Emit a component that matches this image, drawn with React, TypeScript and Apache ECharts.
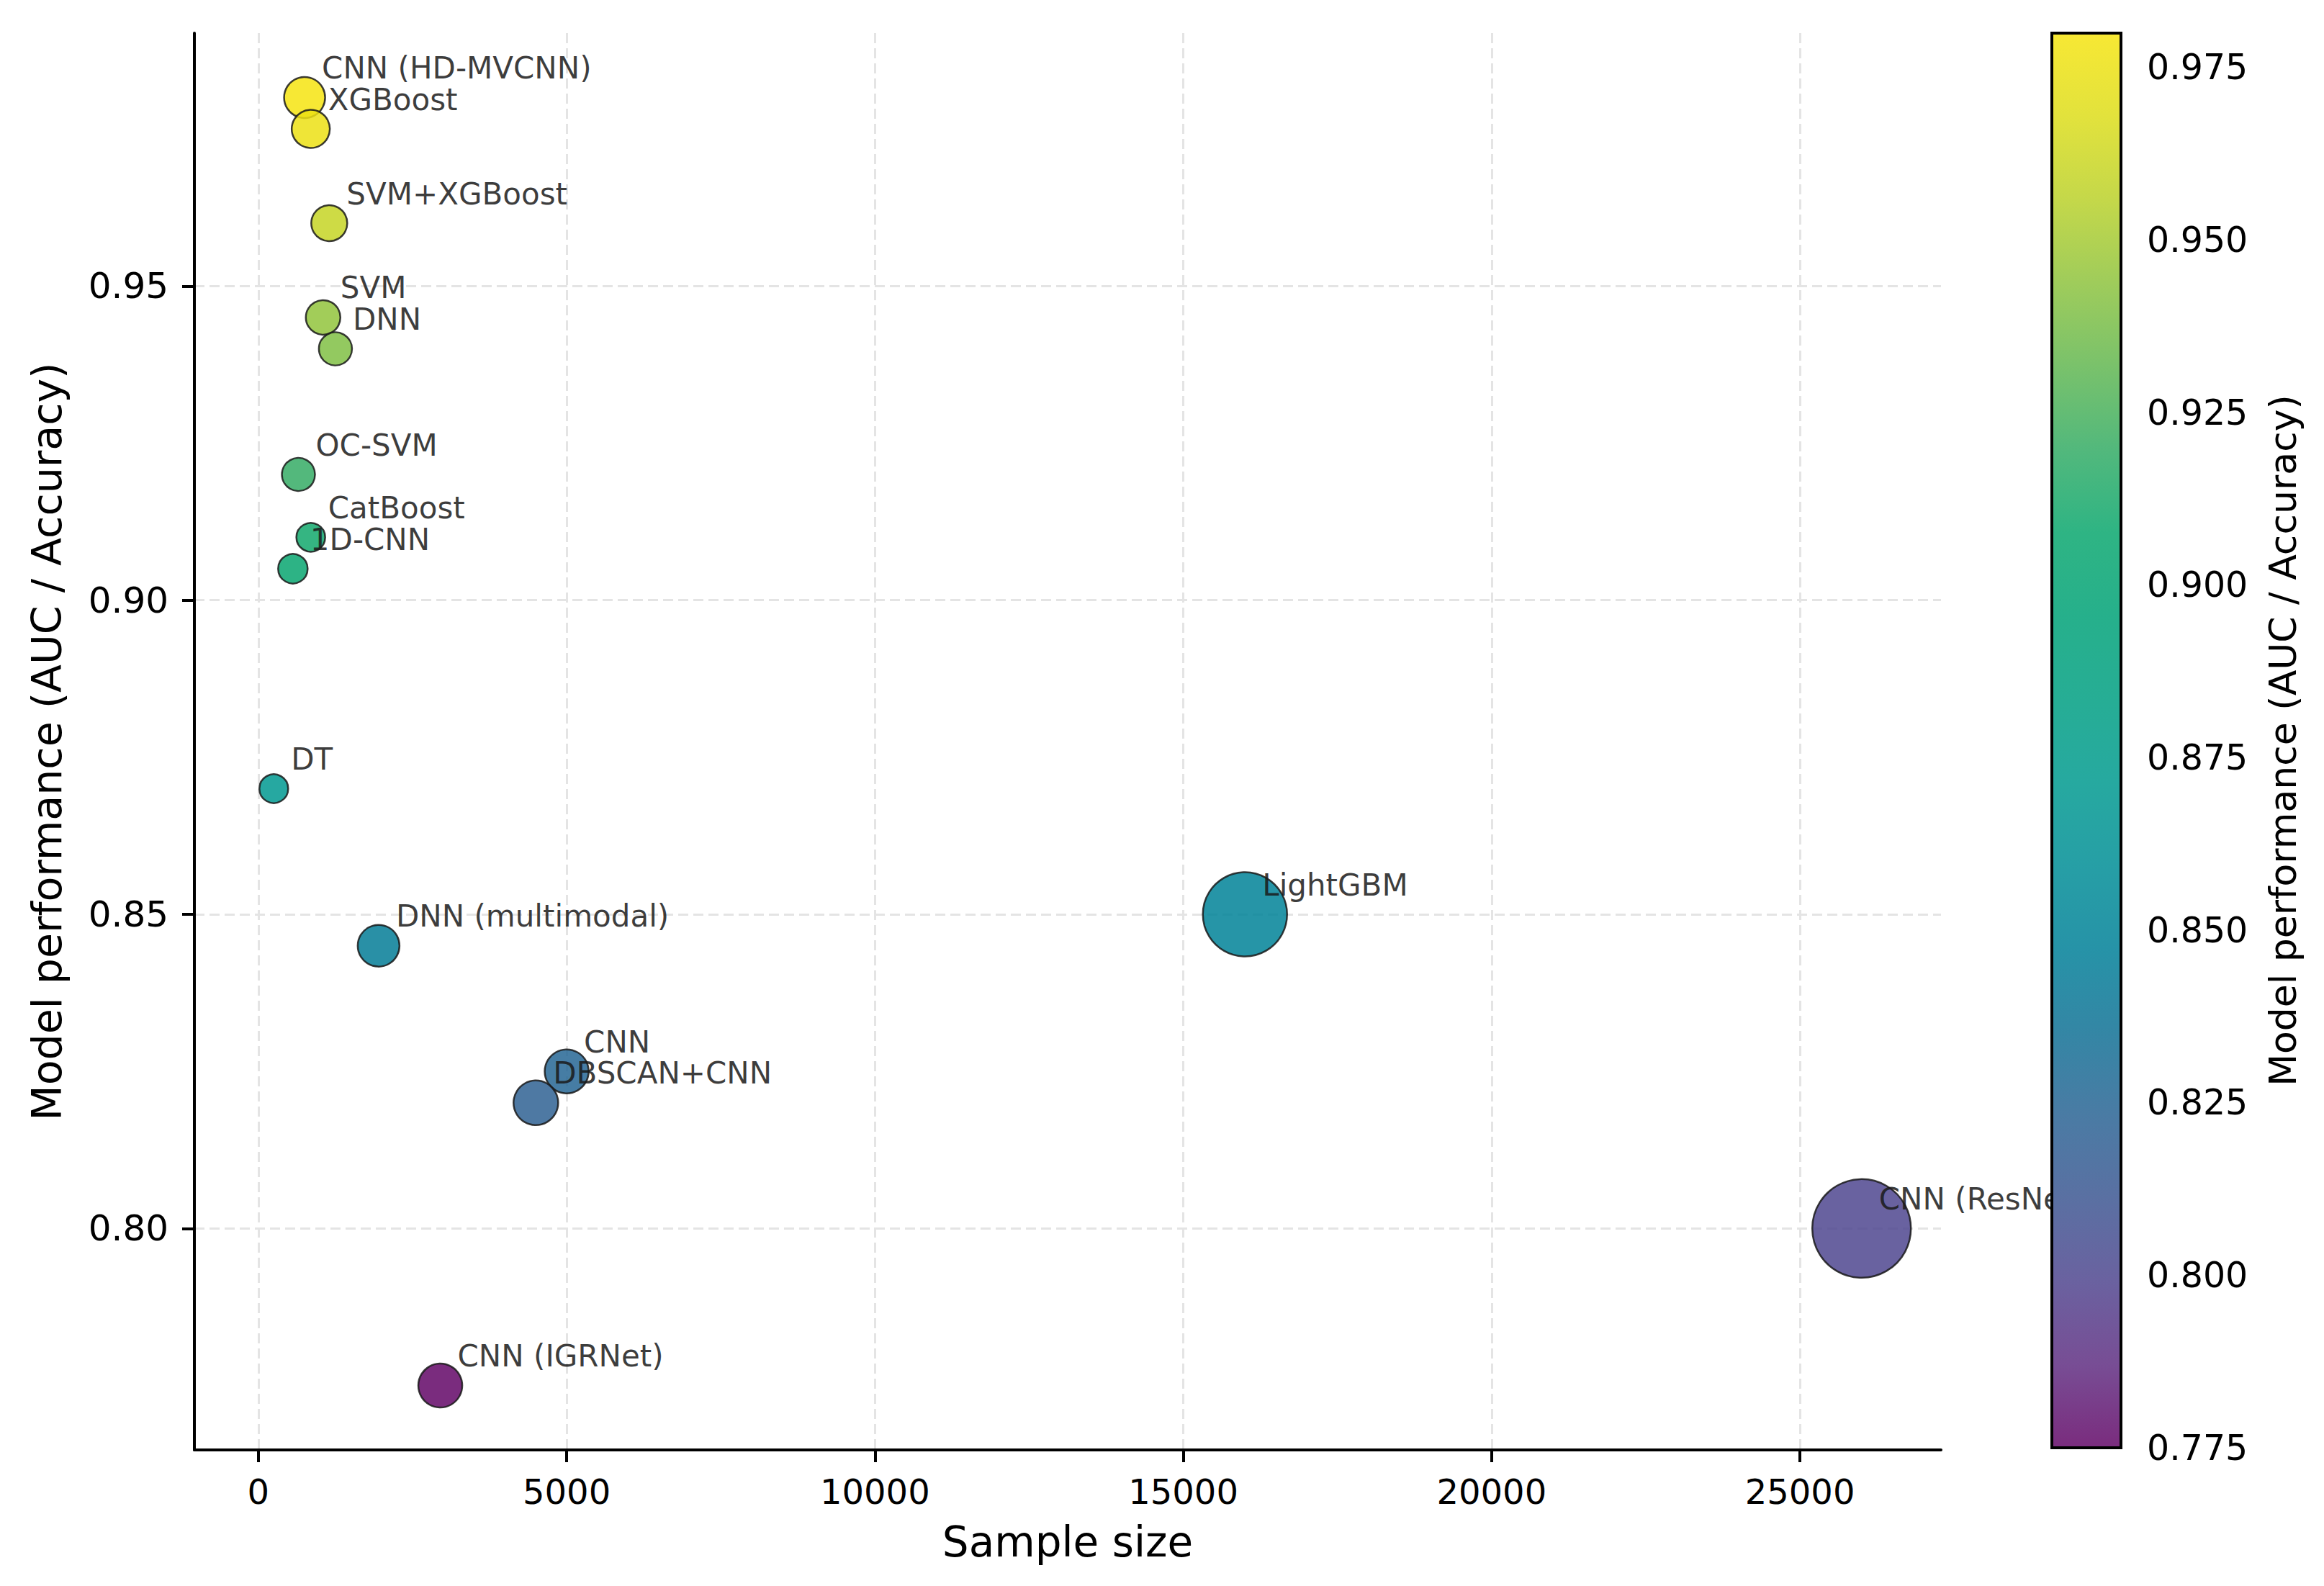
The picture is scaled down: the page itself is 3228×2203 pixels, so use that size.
import * as echarts from "echarts"
import { useEffect, useRef } from "react"

// model / sample size / performance
const models = [
  "CNN (HD-MVCNN)",
  "XGBoost",
  "SVM+XGBoost",
  "SVM",
  "DNN",
  "OC-SVM",
  "CatBoost",
  "1D-CNN",
  "DT",
  "DNN (multimodal)",
  "CNN",
  "DBSCAN+CNN",
  "LightGBM",
  "CNN (ResNet)",
  "CNN (IGRNet)",
]
const sampleSize = [750, 850, 1150, 1050, 1250, 650, 850, 560, 250, 1950, 5000, 4500, 16000, 26000, 2950]
const performance = [0.98, 0.975, 0.96, 0.945, 0.94, 0.92, 0.91, 0.905, 0.87, 0.845, 0.825, 0.82, 0.85, 0.8, 0.775]
// bubble diameter as drawn
const bubbleDiameter = [57, 53, 50, 48, 46, 46, 40, 41, 40, 58, 61, 62, 117, 137, 61]

const xTicks = [0, 5000, 10000, 15000, 20000, 25000]
const yTicks = [0.8, 0.85, 0.9, 0.95]
const colorbarRange = [0.775, 0.98]
const colorbarTicks = [0.775, 0.8, 0.825, 0.85, 0.875, 0.9, 0.925, 0.95, 0.975]

// viridis-like map as it appears in the picture (before alpha)
const cmap = [
  "#630767", "#602e82", "#50468f", "#3d5792", "#2a6494", "#107195",
  "#008098", "#008e96", "#009a8f", "#009f82", "#00a277", "#0aa76e",
  "#34ac65", "#62b751", "#8ec33e", "#bad12a", "#dddd1a", "#f6e410",
]

const FONT = "DejaVu Sans"
const ALPHA = 0.85

// matplotlib-style 5% margins
function padded(values: number[]): [number, number] {
  const lo = Math.min(...values)
  const hi = Math.max(...values)
  const m = (hi - lo) * 0.05
  return [lo - m, hi + m]
}

export default function App(): React.ReactElement {
  const ref = useRef<HTMLDivElement>(null)

  useEffect(() => {
    const node = ref.current
    if (!node) return
    const chart = echarts.init(node, undefined, { renderer: "svg" })

    const [xMin, xMax] = padded(sampleSize)
    const [yMin, yMax] = padded(performance)
    const points = models.map((m, i) => [sampleSize[i], performance[i], bubbleDiameter[i], m])

    const tickLabel = { color: "#000", fontFamily: FONT, fontSize: 48 }
    const axisLine = { show: true, onZero: false, lineStyle: { color: "#000", width: 4 } }
    const axisTick = { show: true, length: 17, lineStyle: { color: "#000", width: 4 } }
    const grid = { show: true, lineStyle: { color: "#e4e4e4", width: 3, type: [14, 7] } }

    const stops = cmap.map((c, i) => ({ offset: i / (cmap.length - 1), color: c }))

    chart.setOption({
      animation: false,
      backgroundColor: "#fff",
      textStyle: { fontFamily: FONT },
      grid: [
        { left: 270, top: 46, width: 2426, height: 1968 },
        { left: 2850, top: 46, width: 96, height: 1965 },
      ],
      xAxis: [
        {
          type: "value",
          gridIndex: 0,
          min: xMin,
          max: xMax,
          name: "Sample size",
          nameLocation: "middle",
          nameGap: 99,
          nameTextStyle: { color: "#000", fontFamily: FONT, fontSize: 58 },
          axisLine,
          axisTick: { ...axisTick, customValues: xTicks },
          axisLabel: { ...tickLabel, margin: 34, customValues: xTicks, formatter: (v: number) => String(v) },
          splitLine: grid,
        },
        { type: "value", gridIndex: 1, min: 0, max: 1, show: false },
      ],
      yAxis: [
        {
          type: "value",
          gridIndex: 0,
          min: yMin,
          max: yMax,
          name: "Model performance (AUC / Accuracy)",
          nameLocation: "middle",
          nameRotate: 90,
          nameGap: 177,
          nameTextStyle: { color: "#000", fontFamily: FONT, fontSize: 57 },
          axisLine,
          axisTick: { ...axisTick, customValues: yTicks },
          axisLabel: {
            ...tickLabel,
            fontSize: 50,
            margin: 36,
            customValues: yTicks,
            formatter: (v: number) => v.toFixed(2),
          },
          splitLine: grid,
        },
        {
          type: "value",
          gridIndex: 1,
          position: "right",
          min: colorbarRange[0],
          max: colorbarRange[1],
          name: "Model performance (AUC / Accuracy)",
          nameLocation: "middle",
          nameRotate: 90,
          nameGap: 199,
          nameTextStyle: { color: "#000", fontFamily: FONT, fontSize: 52 },
          axisLine: { show: false },
          axisTick: { ...axisTick, customValues: colorbarTicks },
          axisLabel: {
            ...tickLabel,
            fontSize: 49,
            margin: 36,
            customValues: colorbarTicks,
            formatter: (v: number) => v.toFixed(3),
          },
          splitLine: { show: false },
        },
      ],
      visualMap: {
        type: "continuous",
        show: false,
        seriesIndex: 0,
        dimension: 1,
        min: colorbarRange[0],
        max: colorbarRange[1],
        inRange: { color: cmap },
      },
      series: [
        {
          type: "scatter",
          xAxisIndex: 0,
          yAxisIndex: 0,
          data: points,
          symbolSize: (v: any[]) => v[2],
          itemStyle: { opacity: ALPHA, borderColor: "#1a1a1a", borderWidth: 2.5 },
          label: {
            show: true,
            position: "inside",
            align: "left",
            verticalAlign: "bottom",
            offset: [24, -20],
            formatter: (p: any) => p.data[3],
            color: "#1a1a1a",
            fontFamily: FONT,
            fontSize: 42,
            lineHeight: 42,
            textBorderWidth: 0,
          },
          emphasis: { disabled: true },
          z: 3,
        },
        {
          type: "custom",
          coordinateSystem: "cartesian2d",
          xAxisIndex: 1,
          yAxisIndex: 1,
          data: [colorbarRange],
          silent: true,
          clip: false,
          z: 10,
          renderItem: (_params: any, api: any) => {
            const p0 = api.coord([0, api.value(0)])
            const p1 = api.coord([1, api.value(1)])
            const shape = { x: p0[0], y: p1[1], width: p1[0] - p0[0], height: p0[1] - p1[1] }
            return {
              type: "group",
              children: [
                { type: "rect", shape, style: { fill: "#fff" } },
                {
                  type: "rect",
                  shape,
                  style: { fill: new echarts.graphic.LinearGradient(0, 1, 0, 0, stops), opacity: ALPHA },
                },
                { type: "rect", shape, style: { fill: "none", stroke: "#000", lineWidth: 4 } },
              ],
            }
          },
        },
      ],
    })

    return () => chart.dispose()
  }, [])

  return (
    <div
      ref={ref}
      style={{ position: "fixed", left: 0, top: 0, width: 3228, height: 2203, background: "#fff" }}
    />
  )
}
